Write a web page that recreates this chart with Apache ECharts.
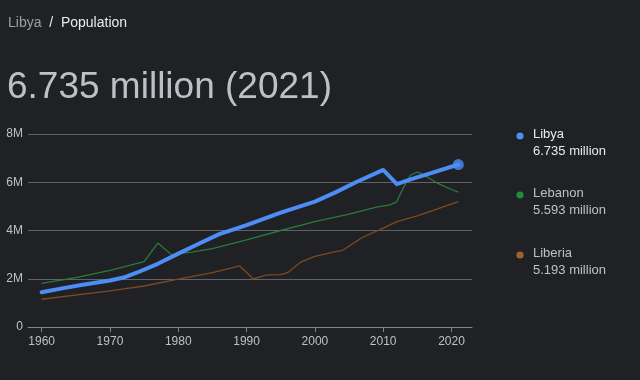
<!DOCTYPE html>
<html>
<head>
<meta charset="utf-8">
<script src="https://cdn.jsdelivr.net/npm/echarts@6/dist/echarts.min.js"></script>
<style>
html,body{margin:0;padding:0;background:#202124;}
#c{width:640px;height:380px;}
</style>
</head>
<body>
<div id="c"></div>
<script>
// ---- data (population in millions) ----
const libyaYears = [1960,1963,1966,1970,1972,1974,1977,1980,1983,1986,1990,1995,2000,2003,2006,2010,2012,2014,2017,2021];
const libyaVals  = [1.44,1.60,1.75,1.93,2.05,2.26,2.62,3.04,3.45,3.85,4.22,4.74,5.20,5.58,6.00,6.51,5.92,6.12,6.38,6.735];

const lebanonYears = [1960,1965,1970,1975,1977,1979,1982,1985,1990,1995,2000,2005,2009,2011,2012,2013,2014,2015,2016,2018,2020,2021];
const lebanonVals  = [1.81,2.05,2.35,2.71,3.48,3.00,3.10,3.25,3.61,4.00,4.37,4.68,4.97,5.06,5.20,5.80,6.30,6.42,6.30,5.95,5.70,5.593];

const liberiaYears = [1960,1970,1975,1980,1985,1989,1991,1993,1995,1996,1998,2000,2003,2004,2007,2010,2012,2015,2021];
const liberiaVals  = [1.15,1.50,1.70,1.98,2.25,2.53,1.99,2.16,2.17,2.25,2.70,2.93,3.12,3.17,3.72,4.10,4.37,4.61,5.193];

const seriesNames  = ['Libya','Lebanon','Liberia'];
const legendValues = ['6.735 million','5.593 million','5.193 million'];
const xTickYears   = [1960,1970,1980,1990,2000,2010,2020];
const yTickLabels  = ['0','2M','4M','6M','8M'];
const headline     = '6.735 million (2021)';
const crumbCountry = 'Libya';
const crumbTopic   = 'Population';

const colors    = ['#4c8df6','#2b7a3b','#7a4b22'];
const dotColors = ['#4c8df6','#1e8e3e','#a0622d'];

const zip = (xs, ys) => xs.map((x, i) => [x, ys[i]]);

const chart = echarts.init(document.getElementById('c'), null, {renderer:'canvas'});

const legendGraphics = [];
const legendTops = [136, 195, 255];
seriesNames.forEach((n, i) => {
  legendGraphics.push({
    type:'circle', shape:{cx:520, cy:legendTops[i], r:3.6},
    style:{fill:dotColors[i]}
  });
  legendGraphics.push({
    type:'text', left:533, top:legendTops[i]-8,
    style:{text:n, fill: i===0 ? '#e8eaed' : '#bdc1c6', font:'13px "Liberation Sans", Arial, sans-serif'}
  });
  legendGraphics.push({
    type:'text', left:533, top:legendTops[i]+9,
    style:{text:legendValues[i], fill: i===0 ? '#e8eaed' : '#bdc1c6', font:'13px "Liberation Sans", Arial, sans-serif'}
  });
});

const option = {
  backgroundColor:'#202124',
  animation:false,
  grid:{left:28, right:168, top:134, bottom:53, containLabel:false},
  xAxis:{
    type:'value', min:1958, max:2023,
    splitLine:{show:false},
    axisLine:{show:true, lineStyle:{color:'#80868b', width:1}},
    axisTick:{show:true, customValues:xTickYears, length:5, lineStyle:{color:'#80868b'}},
    axisLabel:{customValues:xTickYears, color:'#bdc1c6', fontSize:12, margin:9,
      fontFamily:'"Liberation Sans", Arial, sans-serif', formatter:v=>String(v)}
  },
  yAxis:{
    type:'value', min:0, max:8, interval:2,
    axisLine:{show:false}, axisTick:{show:false},
    splitLine:{lineStyle:{color:'#5f6368', width:1}},
    axisLabel:{color:'#bdc1c6', fontSize:12, margin:5,
      fontFamily:'"Liberation Sans", Arial, sans-serif',
      formatter:v=>yTickLabels[Math.round(v/2)]}
  },
  graphic:[
    {type:'text', left:8, top:16,
      style:{rich:{a:{fill:'#9aa0a6', font:'14px "Liberation Sans", Arial, sans-serif'},
                   b:{fill:'#e8eaed', font:'14px "Liberation Sans", Arial, sans-serif'}},
             text:'{a|'+crumbCountry+'}{b|  /  '+crumbTopic+'}'}},
    {type:'text', left:7, top:69,
      style:{text:headline, fill:'#bdc1c6', font:'37px "Liberation Sans", Arial, sans-serif'}}
  ].concat(legendGraphics),
  series:[
    {name:seriesNames[2], type:'line', data:zip(liberiaYears, liberiaVals), showSymbol:false,
      lineStyle:{color:colors[2], width:1.3}, z:2},
    {name:seriesNames[1], type:'line', data:zip(lebanonYears, lebanonVals), showSymbol:false,
      lineStyle:{color:colors[1], width:1.3}, z:3},
    {name:seriesNames[0], type:'line', data:zip(libyaYears, libyaVals), showSymbol:false,
      lineStyle:{color:colors[0], width:4, join:'round', cap:'round'}, z:4},
    {name:'end', type:'scatter', data:[[libyaYears[libyaYears.length-1], libyaVals[libyaVals.length-1]]],
      symbol:'circle', symbolSize:11, itemStyle:{color:colors[0]}, z:5}
  ]
};
chart.setOption(option);
</script>
</body>
</html>
